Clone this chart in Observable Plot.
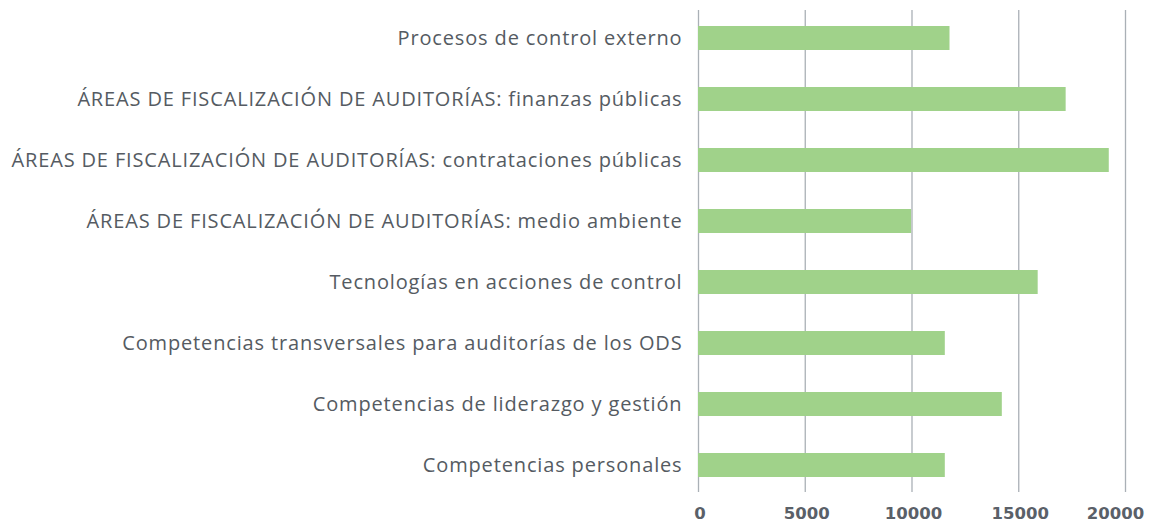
<!DOCTYPE html>
<html>
<head>
<meta charset="utf-8">
<script src="https://cdn.jsdelivr.net/npm/d3@7"></script>
<script src="https://cdn.jsdelivr.net/npm/@observablehq/plot@0.6"></script>
<style>
  html, body { margin: 0; padding: 0; background: #fff; overflow: hidden; }
  #chart svg { display: block; }
  .ylab text { letter-spacing: 0.85px; }
</style>
</head>
<body>
<div id="chart"></div>
<script>
const categories = [
  "Procesos de control externo",
  "ÁREAS DE FISCALIZACIÓN DE AUDITORÍAS: finanzas públicas",
  "ÁREAS DE FISCALIZACIÓN DE AUDITORÍAS: contrataciones públicas",
  "ÁREAS DE FISCALIZACIÓN DE AUDITORÍAS: medio ambiente",
  "Tecnologías en acciones de control",
  "Competencias transversales para auditorías de los ODS",
  "Competencias de liderazgo y gestión",
  "Competencias personales"
];
const values = [11780, 17220, 19240, 9980, 15910, 11560, 14230, 11560];
const xTicks = [0, 5000, 10000, 15000, 20000];

const data = categories.map((c, i) => ({category: c, value: values[i]}));

const tickStyle = {tickSize: 0, tickPadding: 10, fontSize: 16.5, fontWeight: "bold", fontFamily: "'DejaVu Sans', sans-serif", fill: "#5a6068", tickFormat: d => String(d), label: null};

const chart = Plot.plot({
  width: 1156,
  height: 523,
  marginLeft: 698,
  marginRight: 31,
  marginTop: 6.5,
  marginBottom: 26,
  style: {fontFamily: "'Open Sans', sans-serif", background: "#fff"},
  x: {domain: [0, 20000], ticks: xTicks, tickFormat: d => String(d), label: null},
  y: {domain: categories, paddingInner: 0.61, paddingOuter: 0.305, label: null},
  marks: [
    Plot.gridX(xTicks, {stroke: "#aab0b6", strokeOpacity: 1, strokeWidth: 1.3, insetTop: 3.5, insetBottom: 5}),
    Plot.barX(data, {x: "value", y: "category", fill: "#a0d28a"}),
    Plot.axisX(xTicks.slice(0, -1), {...tickStyle, dx: 1.5}),
    Plot.axisX(xTicks.slice(-1), {...tickStyle, dx: -10}),
    Plot.axisY({tickSize: 0, tickPadding: 16, fontSize: 20, fill: "#555b62", label: null, className: "ylab"})
  ]
});
document.getElementById("chart").appendChild(chart);
</script>
</body>
</html>
